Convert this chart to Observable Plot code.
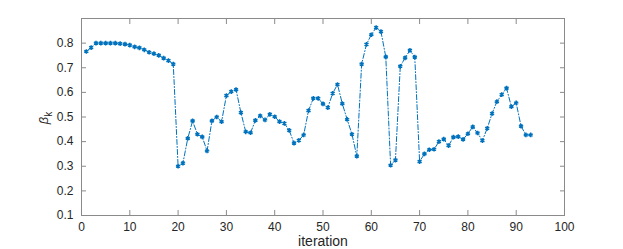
<!DOCTYPE html>
<html><head><meta charset="utf-8">
<script src="https://cdn.jsdelivr.net/npm/d3@7"></script>
<script src="https://cdn.jsdelivr.net/npm/@observablehq/plot@0.6"></script>
<style>body{margin:0;background:#fff}</style>
</head><body><div id="chart"></div>
<script>
const iterations = Array.from({length: 93}, (_, i) => i + 1);
const beta = [
  0.766,0.782,0.800,0.800,0.800,0.800,0.800,0.798,0.796,0.792,
  0.785,0.781,0.773,0.763,0.757,0.750,0.739,0.729,0.715,0.300,
  0.313,0.413,0.484,0.430,0.419,0.362,0.484,0.500,0.481,0.587,
  0.603,0.611,0.518,0.440,0.436,0.486,0.505,0.488,0.511,0.501,
  0.481,0.474,0.446,0.394,0.405,0.427,0.526,0.576,0.576,0.553,
  0.538,0.596,0.632,0.554,0.490,0.430,0.341,0.715,0.795,0.834,
  0.863,0.847,0.744,0.304,0.325,0.706,0.740,0.771,0.743,0.319,
  0.350,0.367,0.369,0.400,0.410,0.384,0.418,0.420,0.409,0.432,
  0.460,0.435,0.404,0.454,0.514,0.562,0.591,0.617,0.542,0.557,
  0.463,0.427,0.427
];
const xTicks = [0,10,20,30,40,50,60,70,80,90,100];
const yTicks = [0.1,0.2,0.3,0.4,0.5,0.6,0.7,0.8];
const data = iterations.map((k, i) => ({k, b: beta[i]}));
const blue = "#0072BD";
const txt = "#262626";
const frameCol = "#8a8a8a";

const chart = Plot.plot({
  width: 623, height: 249,
  marginLeft: 81, marginRight: 59, marginTop: 18, marginBottom: 34,
  style: {fontFamily: "Liberation Sans, Arial, sans-serif", fontSize: "12px", color: txt, background: "#fff"},
  x: {domain: [0, 100]},
  y: {domain: [0.1, 0.9]},
  marks: [
    Plot.frame({stroke: frameCol}),
    Plot.axisX({anchor: "bottom", ticks: xTicks, tickSize: -5, tickPadding: 12, stroke: frameCol, label: null, fill: txt}),
    Plot.axisX({anchor: "top", ticks: xTicks, tickSize: -5, tickFormat: () => "", stroke: frameCol, label: null}),
    Plot.axisY({anchor: "left", ticks: yTicks, tickSize: -5, tickPadding: 13, tickFormat: d3.format(".1f"), stroke: frameCol, label: null, fill: txt}),
    Plot.axisY({anchor: "right", ticks: yTicks, tickSize: -5, tickFormat: () => "", stroke: frameCol, label: null}),
    Plot.text(["iteration"], {frameAnchor: "bottom", dy: 30, fontSize: 14, fill: txt}),
    Plot.line(data, {x: "k", y: "b", stroke: blue, strokeWidth: 1, strokeDasharray: "5,2,1,2"}),
    Plot.dot(data, {x: "k", y: "b", symbol: "asterisk", r: 2.2, stroke: blue, strokeWidth: 1.5})
  ]
});
document.getElementById("chart").appendChild(chart);
// y label: italic beta with subscript k
const svg = d3.select(chart);
const lab = svg.append("text")
  .attr("transform", "translate(48,118) rotate(-90)")
  .attr("text-anchor", "middle")
  .attr("fill", txt)
  .attr("font-family", "Liberation Sans, Arial, sans-serif");
lab.append("tspan").attr("font-style", "italic").attr("font-size", "13px").text("β");
lab.append("tspan").attr("dy", "0.35em").attr("font-size", "10px").text("k");
</script></body></html>
